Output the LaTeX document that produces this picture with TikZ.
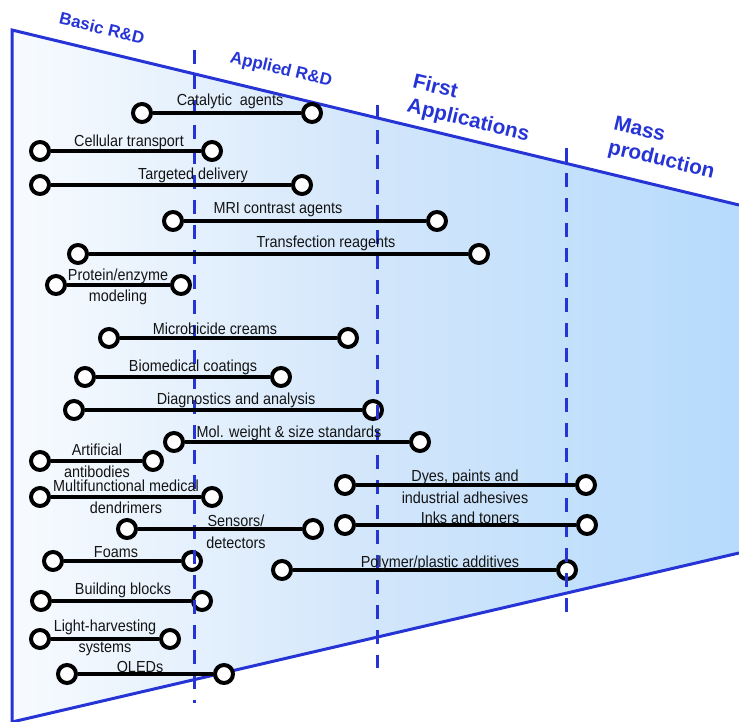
\documentclass[tikz,border=0pt]{standalone}
\usepackage{fontspec}
\setmainfont{Liberation Sans}
\newfontfamily\labfont[FakeStretch=0.9]{Liberation Sans}
\definecolor{edgeblue}{RGB}{38,52,214}
\definecolor{shA}{RGB}{210,230,251}
\definecolor{shB}{RGB}{180,218,252}
\definecolor{shC}{RGB}{166,211,252}
\definecolor{txt}{RGB}{20,20,20}
\pgfdeclarehorizontalshading{stageshade}{100bp}{color(0bp)=(white); color(20bp)=(white); color(50bp)=(shA); color(77bp)=(shB); color(100bp)=(shC)}
\begin{document}
\begin{tikzpicture}[x=1pt,y=-1pt,
  dot/.style={circle,draw=black,fill=white,line width=4pt,minimum size=18pt,inner sep=0pt},
  bar/.style={line width=3.6pt,draw=black},
  lab/.style={font=\labfont\fontsize{16}{21.5}\selectfont,text=txt,inner sep=0pt,align=center},
  stage/.style={font=\fontsize{17}{20}\selectfont\bfseries,text=edgeblue,rotate=-13.5,inner sep=0pt,align=left},
  bigstage/.style={font=\fontsize{20.8}{24.5}\selectfont\bfseries,text=edgeblue,rotate=-13.5,inner sep=0pt,align=left},
  border/.style={draw=edgeblue,line width=3pt},
  divider/.style={draw=edgeblue,line width=3pt,dash pattern=on 14pt off 11pt}]
\useasboundingbox (0,0) rectangle (739,722);
% funnel background
\path[shading=stageshade] (12,30) -- (739,205) -- (739,553) -- (12,722) -- cycle;
\coordinate (tr) at (739,205);
\coordinate (tl) at (12,30);
\coordinate (bl) at (12,722);
\coordinate (br) at (739,553);
\draw[border] (tr) -- (tl) -- (bl) -- (br);
% stage labels
\node[stage] (basic) at (102,28) {Basic R\&D};
\node[stage] (applied) at (281,70) {Applied R\&D};
\node[bigstage] (first) at (471,109) {First\\Applications};
\node[bigstage] (mass) at (664,149) {Mass\\production};
% end points
\node[dot] (a1) at (142,113) {}; \node[dot] (b1) at (312,113) {};
\node[dot] (a2) at (40,151) {};  \node[dot] (b2) at (212,151) {};
\node[dot] (a3) at (40,185) {};  \node[dot] (b3) at (302,185) {};
\node[dot] (a4) at (173,221) {}; \node[dot] (b4) at (437,221) {};
\node[dot] (a5) at (78,254) {};  \node[dot] (b5) at (479,254) {};
\node[dot] (a6) at (56,285) {};  \node[dot] (b6) at (181,285) {};
\node[dot] (a7) at (109,338) {}; \node[dot] (b7) at (348,338) {};
\node[dot] (a8) at (85,377) {};  \node[dot] (b8) at (281,377) {};
\node[dot] (a9) at (74,410) {};  \node[dot] (b9) at (373,410) {};
\node[dot] (a10) at (174,442) {}; \node[dot] (b10) at (420,442) {};
\node[dot] (a11) at (40,461) {};  \node[dot] (b11) at (153,461) {};
\node[dot] (a12) at (40,497) {};  \node[dot] (b12) at (212,497) {};
\node[dot] (a13) at (127,529) {}; \node[dot] (b13) at (313,529) {};
\node[dot] (a14) at (53,561) {};  \node[dot] (b14) at (192,561) {};
\node[dot] (a15) at (41,601) {};  \node[dot] (b15) at (202,601) {};
\node[dot] (a16) at (40,639) {};  \node[dot] (b16) at (170,639) {};
\node[dot] (a17) at (67,674) {};  \node[dot] (b17) at (224,674) {};
\node[dot] (a18) at (345,485) {}; \node[dot] (b18) at (586,485) {};
\node[dot] (a19) at (345,525) {}; \node[dot] (b19) at (587,525) {};
\node[dot] (a20) at (282,570) {}; \node[dot] (b20) at (567,570) {};
% stage dividers
\coordinate (d1t) at (194,50);  \coordinate (d1b) at (194,703);
\coordinate (d2t) at (377,105); \coordinate (d2b) at (377,668);
\coordinate (d3t) at (566,148); \coordinate (d3b) at (566,612);
\draw[divider] (d1t) -- (d1b);
\draw[divider] (d2t) -- (d2b);
\draw[divider] (d3t) -- (d3b);
% connectors
\foreach \i in {1,...,20} { \draw[bar] (a\i) -- (b\i); }
% labels
\node[lab] (t1) at (230,101) {Catalytic\ \ agents};
\node[lab] (t2) at (129,142) {Cellular transport};
\node[lab] (t3) at (193,175) {Targeted delivery};
\node[lab] (t4) at (278,210) {MRI contrast agents};
\node[lab] (t5) at (326,243) {Transfection reagents};
\node[lab] (t6) at (118,287) {Protein/enzyme\\modeling};
\node[lab] (t7) at (215,329) {Microbicide creams};
\node[lab] (t8) at (193,367) {Biomedical coatings};
\node[lab] (t9) at (236,400) {Diagnostics and analysis};
\node[lab] (t10) at (289,433) {Mol. weight \& size standards};
\node[lab] (t11) at (97,461) {Artificial\\antibodies};
\node[lab] (t12) at (126,497) {Multifunctional medical\\dendrimers};
\node[lab] (t13) at (236,532) {Sensors/\\detectors};
\node[lab] (t14) at (116,552) {Foams};
\node[lab] (t15) at (123,590) {Building blocks};
\node[lab] (t16) at (105,638) {Light-harvesting\\systems};
\node[lab] (t17) at (140,667) {OLEDs};
\node[lab] (t18) at (465,487) {Dyes, paints and\\industrial adhesives};
\node[lab] (t19) at (470,518) {Inks and toners};
\node[lab] (t20) at (440,563) {Polymer/plastic additives};
\end{tikzpicture}
\end{document}
